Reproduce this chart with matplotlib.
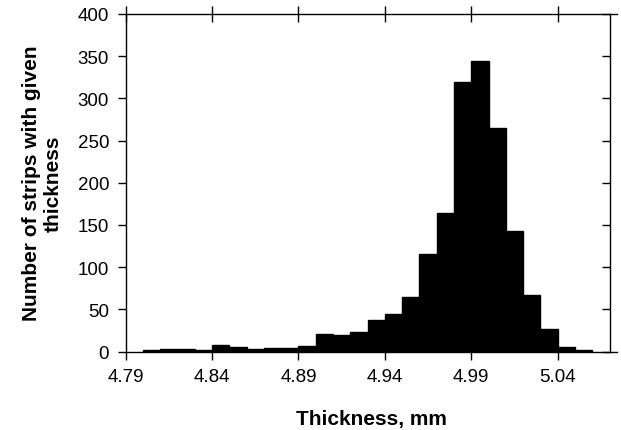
import matplotlib
matplotlib.use("Agg")
import matplotlib.pyplot as plt
import numpy as np

plt.rcParams['font.family'] = ['Liberation Sans', 'DejaVu Sans']

bin_edges = [4.80, 4.81, 4.82, 4.83, 4.84, 4.85, 4.86, 4.87, 4.88, 4.89,
             4.90, 4.91, 4.92, 4.93, 4.94, 4.95, 4.96, 4.97, 4.98, 4.99,
             5.00, 5.01, 5.02, 5.03, 5.04, 5.05, 5.06]
counts = [2, 3, 3, 2, 8, 5, 3, 4, 4, 7,
          21, 19, 23, 37, 44, 65, 116, 164, 319, 344,
          265, 143, 67, 27, 5, 2]
xticks = [4.79, 4.84, 4.89, 4.94, 4.99, 5.04]
xticklabels = ["4.79", "4.84", "4.89", "4.94", "4.99", "5.04"]
yticks = [0, 50, 100, 150, 200, 250, 300, 350, 400]

W, H = 621, 431
fig = plt.figure(figsize=(W / 100, H / 100), dpi=100)
left_px, right_px, top_px, bot_px = 125.7, 617.0, 15.0, 352.5
ax = fig.add_axes([left_px / W, 1 - bot_px / H, (right_px - left_px) / W, (bot_px - top_px) / H])

edges = np.array(bin_edges)
ax.bar(edges[:-1], counts, width=np.diff(edges), align='edge', color='black',
       edgecolor='black', linewidth=1.0)

px_per_unit = 86.4 / 0.05
xmax = 4.79 + (right_px - left_px) / px_per_unit
ax.set_xlim(4.79, xmax)
ax.set_ylim(0, 400)

ax.set_xticks(xticks)
ax.set_xticklabels(xticklabels)
ax.set_yticks(yticks)
ax.tick_params(axis='both', labelsize=13.5, width=1, length=6, direction='out', pad=6)
ax.tick_params(axis='x', top=True, which='both')
ax.spines['right'].set_visible(False)
for s in ['left', 'top', 'bottom']:
    ax.spines[s].set_linewidth(1)

# top ticks cross the top spine
for t in ax.xaxis.get_major_ticks():
    t.tick2line.set_marker('|')
    t.tick2line.set_markersize(12)

# right vertical border with inward ticks
rloc = (610.0 - left_px) / (right_px - left_px)
sec = ax.secondary_yaxis(rloc)
sec.set_yticks(yticks)
sec.tick_params(direction='in', length=6, width=1, labelright=False, labelleft=False)
sec.spines['right'].set_linewidth(1)

ax.set_xlabel("Thickness, mm", fontsize=15, fontweight='bold', labelpad=17)
ax.set_ylabel("Number of strips with given\nthickness", fontsize=15, fontweight='bold',
              labelpad=11, linespacing=1.15)

fig.savefig("out.png", dpi=100)
